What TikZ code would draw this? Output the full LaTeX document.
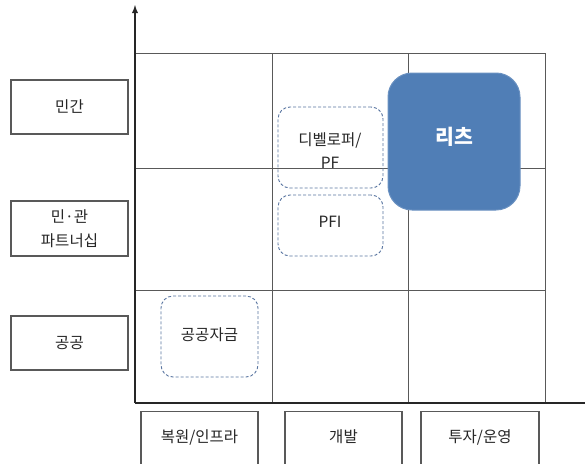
\documentclass[tikz,border=0pt]{standalone}
\usepackage{fontspec}
\setmainfont{Noto Sans CJK KR}
\begin{document}
\begin{tikzpicture}[x=1pt,y=-1pt,
  txt/.style={font=\fontsize{15.5}{23.5}\selectfont,text=black!85,align=center},
  labelbox/.style={draw=black!65,line width=1.1pt,fill=white,inner sep=0pt,txt},
  dashbox/.style={draw=dashblue,dash pattern=on 3pt off 2pt,line width=0.9pt,rounded corners=12pt,inner sep=0pt,txt},
  gridline/.style={draw=black!65,line width=1pt},
  axisline/.style={draw=black!85,line width=1.8pt}]
\definecolor{reitblue}{RGB}{80,126,182}
\definecolor{dashblue}{RGB}{88,116,160}
\useasboundingbox (0,0) rectangle (585,463);
% grid
\draw[gridline] (135,53) -- (545,53) -- (545,403);
\draw[gridline] (135,168) -- (545,168);
\draw[gridline] (135,290) -- (545,290);
\draw[gridline] (272,53) -- (272,403);
\draw[gridline] (408,53) -- (408,403);
% axes
\coordinate (o) at (135,403);
\coordinate (ytop) at (135,5);
\coordinate (xend) at (585,403);
\draw[axisline,-latex] (o) -- (ytop);
\draw[axisline] (o) -- (xend);
% left labels
\node[labelbox,minimum width=117pt,minimum height=54pt] (minkan) at (69.5,107) {민간};
\node[labelbox,minimum width=117pt,minimum height=55pt] (ppp) at (69.5,228.5) {민·관\\파트너십};
\node[labelbox,minimum width=117pt,minimum height=54pt] (public) at (69.5,343) {공공};
% bottom labels
\node[labelbox,minimum width=117pt,minimum height=70pt,anchor=north] (infra) at (199.5,411) {};
\node[txt] (infrat) at (199.5,437) {복원/인프라};
\node[labelbox,minimum width=117pt,minimum height=70pt,anchor=north] (dev) at (343.5,411) {};
\node[txt] (devt) at (343.5,437) {개발};
\node[labelbox,minimum width=118pt,minimum height=70pt,anchor=north] (inv) at (480,411) {};
\node[txt] (invt) at (480,437) {투자/운영};
% dashed boxes
\node[dashbox,minimum width=105pt,minimum height=81pt] (devpf) at (330.5,147.5) {};
\node[txt] (devpft) at (330,150.5) {디벨로퍼/\\PF};
\node[dashbox,minimum width=105pt,minimum height=61pt] (pfi) at (330.5,225.5) {};
\node[txt] (pfit) at (330,222) {PFI};
\node[dashbox,minimum width=97pt,minimum height=81pt] (fund) at (209.5,336.5) {};
\node[txt] (fundt) at (209.5,335) {공공자금};
% REITs
\node[draw=reitblue!85!white,line width=1pt,fill=reitblue,rounded corners=24pt,minimum width=132pt,minimum height=137pt,inner sep=0pt] (reits) at (454,141.5) {};
\node[text=white,font=\fontsize{20.5}{22}\selectfont\bfseries] (reitst) at (454,137) {리츠};
\end{tikzpicture}
\end{document}
